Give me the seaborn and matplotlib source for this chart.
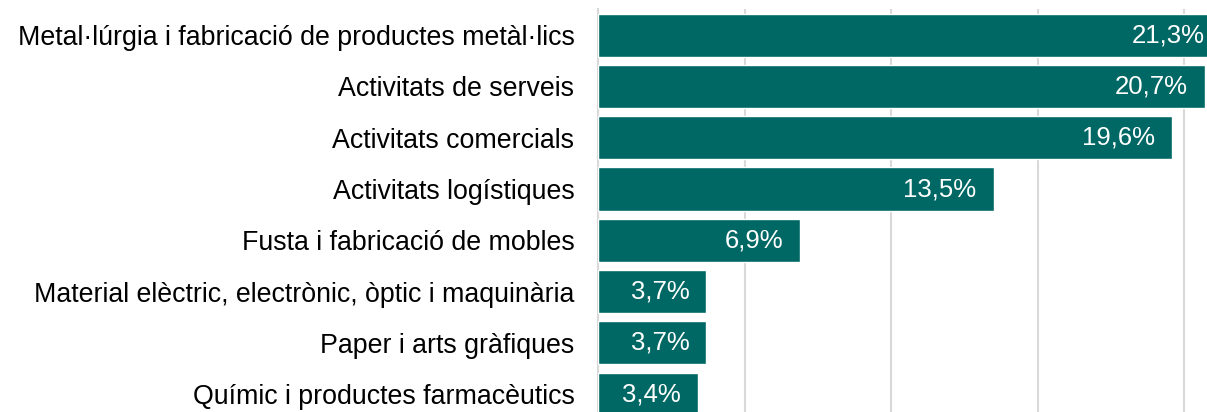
import matplotlib
matplotlib.use("Agg")
import matplotlib.pyplot as plt
import seaborn as sns
import pandas as pd

# data
sectors = [
    "Metal·lúrgia i fabricació de productes metàl·lics",
    "Activitats de serveis",
    "Activitats comercials",
    "Activitats logístiques",
    "Fusta i fabricació de mobles",
    "Material elèctric, electrònic, òptic i maquinària",
    "Paper i arts gràfiques",
    "Químic i productes farmacèutics",
]
shares = [21.3, 20.7, 19.6, 13.5, 6.9, 3.7, 3.7, 3.4]

df = pd.DataFrame({"sector": sectors, "share": shares})

sns.set_style("white")
plt.rcParams["font.family"] = ["Liberation Sans", "DejaVu Sans"]

fig = plt.figure(figsize=(12.07, 4.12), dpi=100)
# the reference is a crop: right and bottom of the plot area run past the edges
ax = fig.add_axes([598 / 1207, 0.977 - 410.4 / 412, 609 / 1207, 410.4 / 412])

sns.barplot(data=df, x="share", y="sector", orient="h", color="#006864",
            saturation=1, width=0.84, ax=ax, zorder=3)

ax.set_xlim(0, 609 / 29.3)
ax.set_ylim(7.5, -0.5)
ax.set_xticks([0, 5, 10, 15, 20])
ax.xaxis.grid(True, color="#d9d9d9", linewidth=1.5, zorder=0)
ax.set_axisbelow(True)
ax.set_xticklabels([])
ax.set_xlabel("")
ax.set_ylabel("")
for s in ["top", "right", "bottom"]:
    ax.spines[s].set_visible(False)
ax.spines["left"].set_color("#d9d9d9")
ax.spines["left"].set_linewidth(1.5)
ax.tick_params(axis="y", length=0, pad=17, labelsize=19.3, labelcolor="black")
ax.tick_params(axis="x", length=0)

for i, v in enumerate(shares):
    ax.text(v - 0.58, i, f"{v:.1f}%".replace(".", ","), ha="right", va="center",
            color="white", fontsize=18.5, zorder=4)

fig.savefig("out.png", dpi=100)
